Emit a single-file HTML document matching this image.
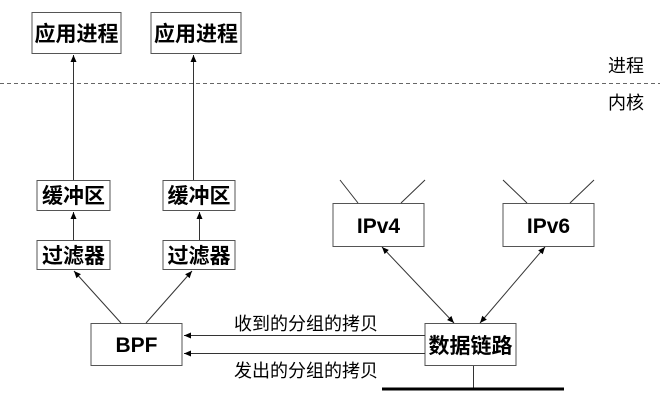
<!DOCTYPE html>
<html><head><meta charset="utf-8"><style>
html,body{margin:0;padding:0;background:#fff}
svg{display:block}
.b{font-family:"Liberation Sans","Noto Sans CJK SC",sans-serif;font-weight:bold;font-size:21px;fill:#000}
.n{font-family:"Liberation Sans","Noto Sans CJK SC",sans-serif;font-size:18px;fill:#000}
</style></head><body>
<svg width="668" height="412" viewBox="0 0 668 412" xmlns="http://www.w3.org/2000/svg">
<defs><marker id="a" markerWidth="8" markerHeight="8" refX="7" refY="4" orient="auto-start-reverse" markerUnits="userSpaceOnUse"><path d="M0,1 L7,4 L0,7 z" fill="#000"/></marker></defs>
<g fill="#fff" stroke="#555" stroke-width="1">
<rect x="32" y="12.5" width="89" height="41"/>
<rect x="151" y="12.5" width="90" height="41"/>
<rect x="37" y="180.5" width="73" height="30"/>
<rect x="163" y="180.5" width="72" height="30"/>
<rect x="37" y="240.5" width="73" height="29"/>
<rect x="163" y="240.5" width="72" height="29"/>
<rect x="91" y="323.5" width="91" height="42"/>
<rect x="333" y="203.5" width="91" height="43"/>
<rect x="503" y="203.5" width="91" height="43"/>
<rect x="425" y="323.5" width="91" height="42"/>
</g>
<line x1="0" y1="83.5" x2="660" y2="83.5" stroke="#666" stroke-dasharray="4,3"/>
<g stroke="#333" stroke-width="1" fill="none">
<line x1="73.5" y1="180" x2="73.5" y2="55" marker-end="url(#a)"/>
<line x1="193.5" y1="180" x2="193.5" y2="55" marker-end="url(#a)"/>
<line x1="73.5" y1="240" x2="73.5" y2="212" marker-end="url(#a)"/>
<line x1="199.5" y1="240" x2="199.5" y2="212" marker-end="url(#a)"/>
<line x1="121" y1="323" x2="74" y2="271" marker-end="url(#a)"/>
<line x1="146" y1="323" x2="192" y2="271" marker-end="url(#a)"/>
<line x1="425" y1="335.5" x2="184" y2="335.5" marker-end="url(#a)"/>
<line x1="425" y1="353.5" x2="184" y2="353.5" marker-end="url(#a)"/>
<line x1="382" y1="247" x2="454" y2="323" marker-start="url(#a)" marker-end="url(#a)"/>
<line x1="545" y1="247" x2="480" y2="323" marker-start="url(#a)" marker-end="url(#a)"/>
<line x1="340" y1="180" x2="358" y2="203"/>
<line x1="425" y1="180" x2="401" y2="203"/>
<line x1="503" y1="180" x2="527" y2="203"/>
<line x1="594" y1="180" x2="570" y2="203"/>
<line x1="473.5" y1="366" x2="473.5" y2="389"/>
</g>
<line x1="382" y1="389" x2="564" y2="389" stroke="#000" stroke-width="3"/>
<g class="b" text-anchor="middle">
<text x="76.5" y="41">应用进程</text>
<text x="196" y="41">应用进程</text>
<text x="73.5" y="203">缓冲区</text>
<text x="199" y="203">缓冲区</text>
<text x="73.5" y="263">过滤器</text>
<text x="199" y="263">过滤器</text>
<text x="136.5" y="352">BPF</text>
<text x="378.5" y="233">IPv4</text>
<text x="548.5" y="233">IPv6</text>
<text x="470.5" y="353">数据链路</text>
</g>
<g class="n">
<text x="234" y="330">收到的分组的拷贝</text>
<text x="234" y="377">发出的分组的拷贝</text>
<text x="608" y="72">进程</text>
<text x="608" y="109">内核</text>
</g>
</svg>
</body></html>
